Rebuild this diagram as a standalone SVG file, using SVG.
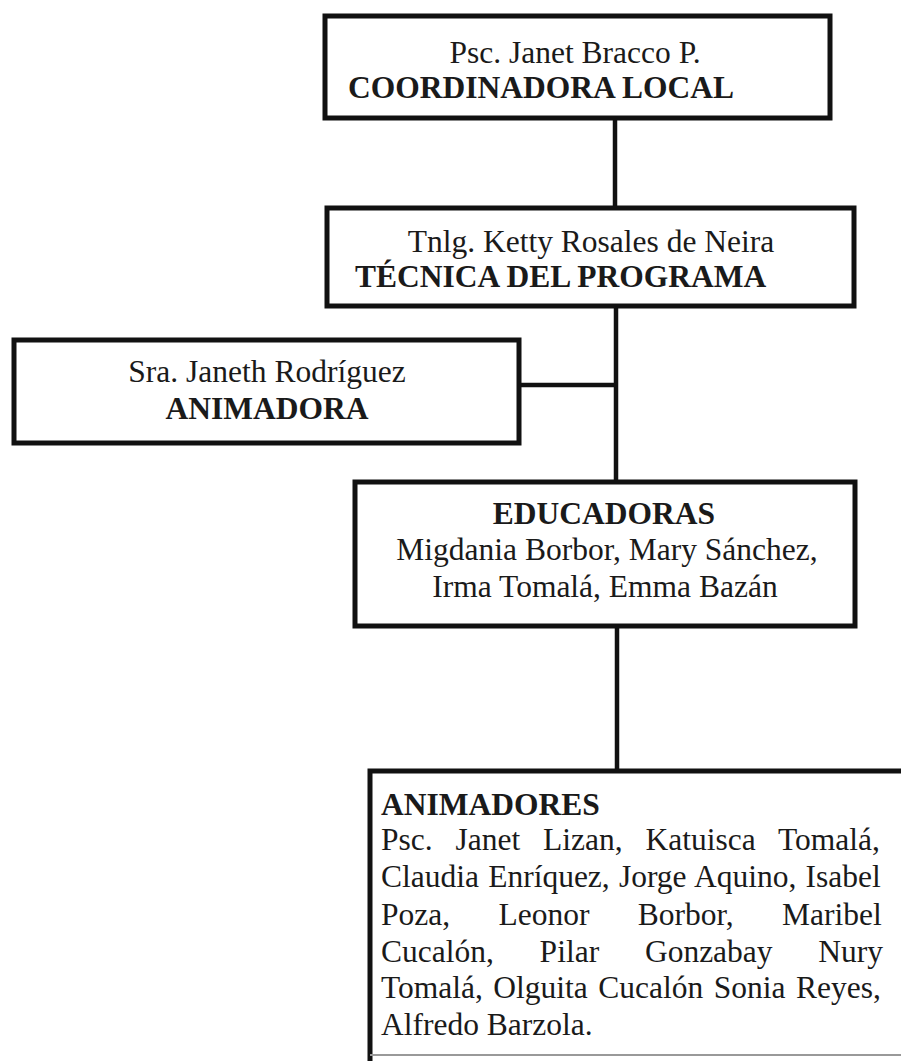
<svg xmlns="http://www.w3.org/2000/svg" width="901" height="1061" viewBox="0 0 901 1061">
<style>
.box{fill:#fff;stroke:#111;stroke-width:5}
.conn{fill:none;stroke:#111;stroke-width:4.5}
text{font-family:"Liberation Serif","Times New Roman",serif;font-size:31.5px;fill:#1a1a1a}
.b{font-weight:bold}
.c{text-anchor:middle}
</style>
<rect width="901" height="1061" fill="#fff"/>
<g id="connectors">
<line class="conn" x1="615" y1="118" x2="615" y2="208"/>
<line class="conn" x1="616" y1="306" x2="616" y2="482"/>
<line class="conn" x1="519" y1="385" x2="616" y2="385"/>
<line class="conn" x1="617" y1="626" x2="617" y2="771"/>
</g>
<g id="coordinadora">
<rect class="box" x="325" y="16" width="505" height="102"/>
<text class="c" x="575" y="63">Psc. Janet Bracco P.</text>
<text class="b" x="348" y="98">COORDINADORA LOCAL</text>
</g>
<g id="tecnica">
<rect class="box" x="327" y="208" width="527" height="98"/>
<text class="c" x="591" y="252">Tnlg. Ketty Rosales de Neira</text>
<text class="b" x="355" y="287">TÉCNICA DEL PROGRAMA</text>
</g>
<g id="animadora">
<rect class="box" x="14" y="340" width="505" height="103"/>
<text class="c" x="267" y="382">Sra. Janeth Rodríguez</text>
<text class="b c" x="267" y="419">ANIMADORA</text>
</g>
<g id="educadoras">
<rect class="box" x="355" y="482" width="500" height="144"/>
<text class="b c" x="604" y="524">EDUCADORAS</text>
<text class="c" x="607" y="560">Migdania Borbor, Mary Sánchez,</text>
<text class="c" x="605" y="597">Irma Tomalá, Emma Bazán</text>
</g>
<g id="animadores">
<rect x="370" y="771" width="540" height="284" fill="#fff"/>
<path d="M901 771 H370 V1061" fill="none" stroke="#111" stroke-width="5"/>
<line x1="370" y1="1055" x2="901" y2="1055" stroke="#999" stroke-width="2"/>
<text class="b" x="381" y="815">ANIMADORES</text>
<text x="381" y="850" word-spacing="15">Psc. Janet Lizan, Katuisca Tomalá,</text>
<text x="381" y="887" word-spacing="1.3">Claudia Enríquez, Jorge Aquino, Isabel</text>
<text x="381" y="925" word-spacing="40.5">Poza, Leonor Borbor, Maribel</text>
<text x="381" y="962" word-spacing="37.9">Cucalón, Pilar Gonzabay Nury</text>
<text x="381" y="998" word-spacing="2.6">Tomalá, Olguita Cucalón Sonia Reyes,</text>
<text x="381" y="1035">Alfredo Barzola.</text>
</g>
</svg>
